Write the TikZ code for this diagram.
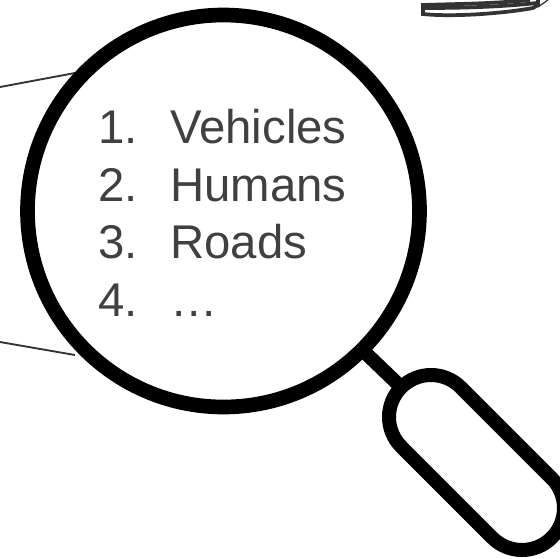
\documentclass[tikz,border=0pt]{standalone}
\usepackage{fontspec}
\setmainfont{Liberation Sans}
\usepackage{tikz}
\usetikzlibrary{positioning,calc}
\definecolor{itemgrey}{RGB}{64,64,64}
\definecolor{sketchgrey}{RGB}{51,51,51}
\begin{document}
\begin{tikzpicture}[x=0.75pt, y=-0.75pt]
\tikzset{
  lensring/.style={draw=black, line width=11pt, circle, inner sep=0pt, outer sep=0pt, minimum size=294pt},
  gripbox/.style={draw=black, line width=10.5pt, rectangle, rotate=-45, inner sep=0pt, outer sep=0pt, rounded corners=31.5pt, minimum width=159.5pt, minimum height=63pt},
  itemtext/.style={text=itemgrey, font=\fontsize{35.5pt}{40pt}\selectfont, inner sep=0pt, anchor=base west},
  sketchline/.style={draw=sketchgrey, line width=1.4pt},
  platetrace/.style={draw=sketchgrey, line width=2.8pt}
}
\useasboundingbox (0,0) rectangle (560,558);
% plate in the corner
\draw[platetrace] (530,0) .. controls (490,4) and (450,4) .. (423,5) -- (423,14) .. controls (450,17) and (500,14) .. (533,8) -- (538,5) -- (538,0);
\draw[platetrace] (424,8) .. controls (460,8) and (500,7) .. (537,3);
\draw[sketchline, line width=1pt] (538,7) -- (548,0);
% leader lines
\coordinate (uppertip) at (75,73);
\coordinate (upperend) at (0,87);
\coordinate (lowertip) at (75,355);
\coordinate (lowerend) at (0,342);
\draw[sketchline] (upperend) -- (uppertip);
\draw[sketchline] (lowerend) -- (lowertip);
% glass and handle
\node[lensring] (lens) at (223.5,211) {};
\node[gripbox] (grip) at (476.5,462.5) {};
\draw[black, line width=10.5pt] (lens.-45) -- (grip.west);
% the list
\foreach \i/\y/\label in {1/143/Vehicles, 2/201/Humans, 3/258/Roads, 4/316/…} {
  \node[itemtext] (num\i) at (98,\y) {\i.};
  \node[itemtext] (item\i) at (170,\y) {\label};
}
\end{tikzpicture}
\end{document}
